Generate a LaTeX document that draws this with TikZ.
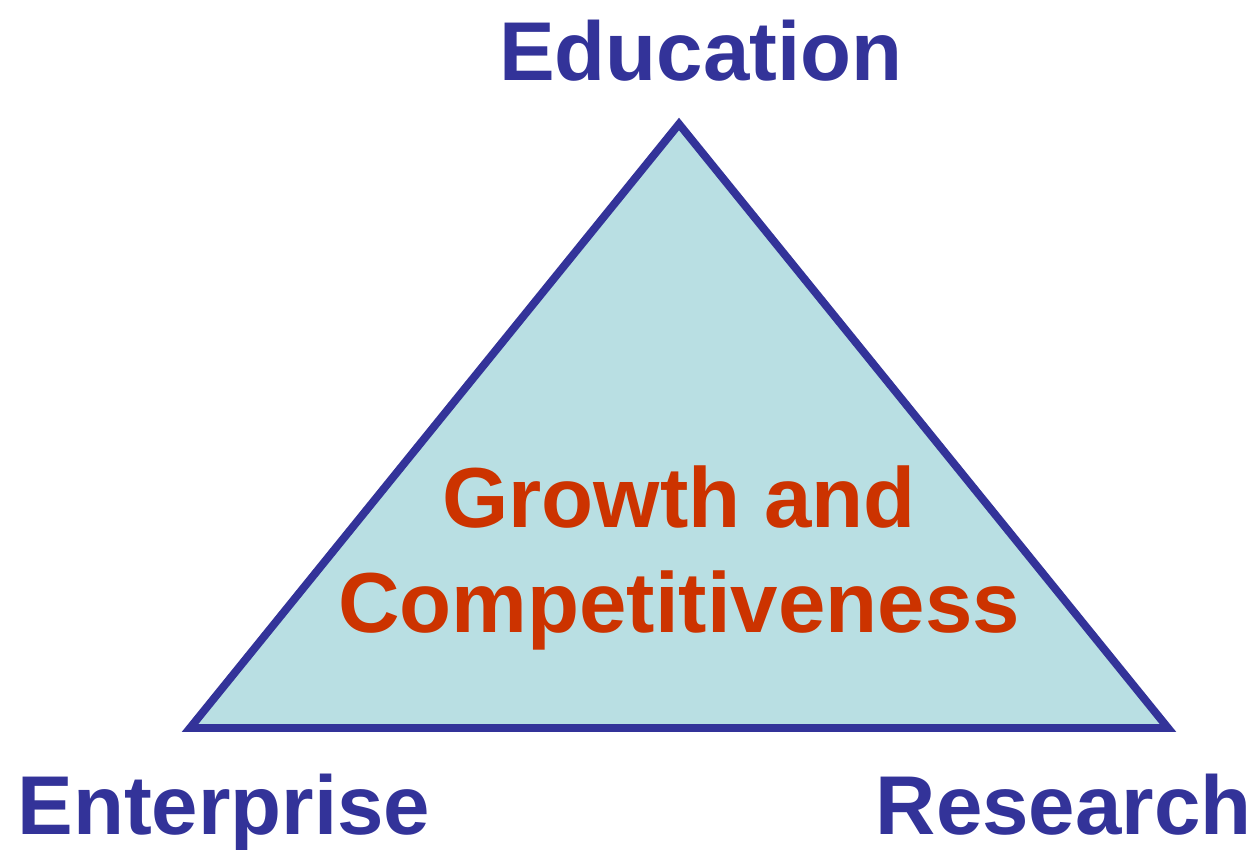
\documentclass[tikz,border=0pt]{standalone}
\usepackage{fontspec}
\setmainfont{Liberation Sans}
\usetikzlibrary{positioning,calc}

\definecolor{edgeblue}{HTML}{333399}
\definecolor{paleteal}{HTML}{B9DFE3}
\definecolor{rustred}{HTML}{CC3300}

\begin{document}
\begin{tikzpicture}[x=0.02cm, y=-0.02cm,
	corner/.style={font=\fontsize{47.5}{50}\selectfont\bfseries, text=edgeblue, inner sep=0pt},
	middle/.style={font=\fontsize{48.5}{59.5}\selectfont\bfseries, text=rustred, inner sep=0pt, align=center}]
	\useasboundingbox (0,0) rectangle (1258,849);

	\coordinate (top) at (679,124);
	\coordinate (left) at (190,728);
	\coordinate (right) at (1168,728);

	\draw[edgeblue, fill=paleteal, line width=4.5pt, miter limit=10] (top) -- (left) -- (right) -- cycle;

	\node[corner, anchor=base] (edu) at (701,80) {Education};
	\node[corner, anchor=base west] (ent) at (17,834) {Enterprise};
	\node[corner, anchor=base east] (res) at (1252,834) {Research};

	\node[middle] (gc) at (679,558) {Growth and\\Competitiveness};
\end{tikzpicture}
\end{document}
